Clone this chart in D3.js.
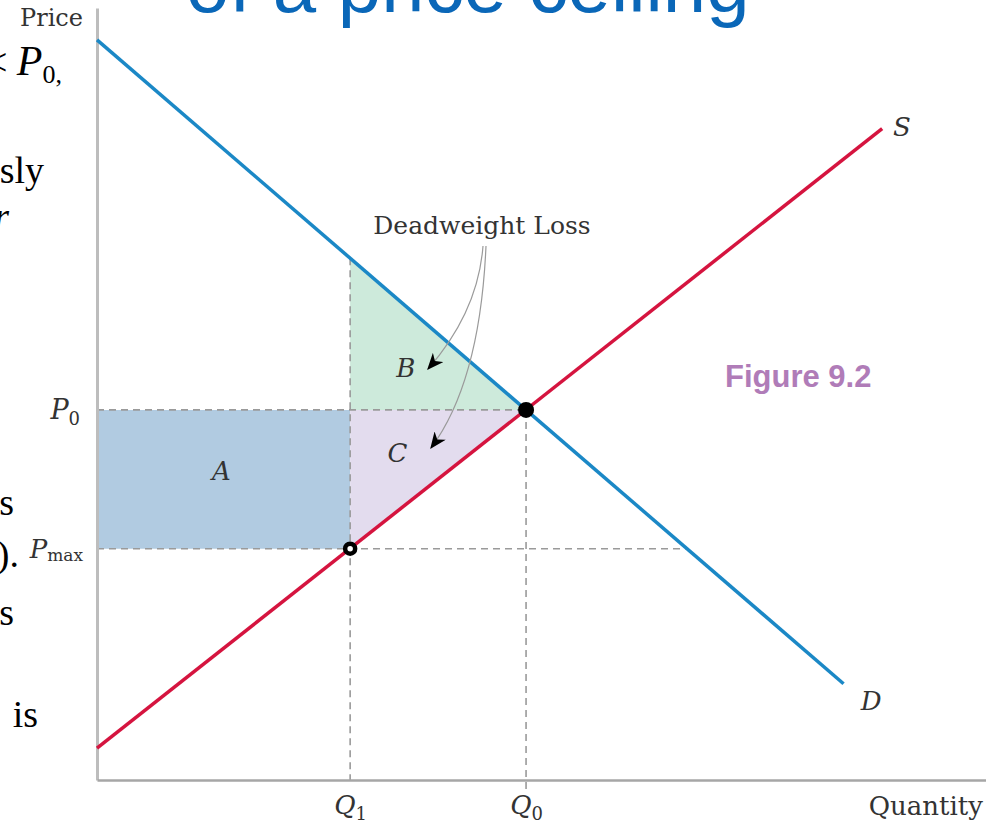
<!DOCTYPE html>
<html>
<head>
<meta charset="utf-8">
<script src="https://cdn.jsdelivr.net/npm/d3@7"></script>
<style>
  html, body { margin: 0; padding: 0; background: #fff; }
  svg { display: block; }
</style>
</head>
<body>
<svg id="chart" width="986" height="829"></svg>
<script>
// Market for a good with a price ceiling Pmax below equilibrium P0.
const demandQ = [0, 17.4];
const demandP = [20, 2.6];
const supplyQ = [0, 18.3];
const supplyP = [0.86, 17.6];

const Q0 = 10, P0 = 10;          // equilibrium
const Q1 = 5.9, Pmax = 6.25;     // quantity supplied at the ceiling
const demandPriceAtQ1 = 14.1;    // willingness to pay for the Q1-th unit
const demandQtyAtPmax = 13.75;   // quantity demanded at the ceiling

const priceTicks = [P0, Pmax];
const priceTickLabels = [["P", "0"], ["P", "max"]];
const qtyTicks = [Q1, Q0];
const qtyTickLabels = [["Q", "1"], ["Q", "0"]];

const areaLabels = ["A", "B", "C"];
const curveLabels = ["S", "D"];

const svg = d3.select("#chart");
const serif = "'DejaVu Serif', 'Liberation Serif', serif";
const ink = "#333";

const x = d3.scaleLinear().domain([0, 20.72]).range([97, 986]);
const y = d3.scaleLinear().domain([0, 20.86]).range([780, 8]);

// Slide title, partly above the visible area
svg.append("text")
  .attr("x", 186).attr("y", 12)
  .attr("font-family", "'Liberation Sans', Arial, sans-serif")
  .attr("font-size", 78)
  .attr("fill", "#0a67b8")
  .text("of a price ceiling");

// Body text of the slide, running off the left edge
const bodyLines = [
  { parts: [["< ", false], ["P", true, "0,"]], right: 62, base: 75 },
  { parts: [["sly", false]], right: 44, base: 183 },
  { parts: [["r", true]], right: 9, base: 229 },
  { parts: [["s", false]], right: 14, base: 515 },
  { parts: [[").", false]], right: 19, base: 567 },
  { parts: [["s", false]], right: 14, base: 625 },
  { parts: [["is", false]], right: 38, base: 727 }
];
bodyLines.forEach(line => {
  const t = svg.append("text")
    .attr("x", line.right).attr("y", line.base)
    .attr("text-anchor", "end")
    .attr("font-family", "'Liberation Serif', 'Times New Roman', serif")
    .attr("font-size", 38)
    .attr("fill", "#000");
  line.parts.forEach(p => {
    t.append("tspan").attr("font-style", p[1] ? "italic" : "normal")
      .attr("font-size", p[0] === "P" ? 42 : 38).text(p[0]);
    if (p[2]) t.append("tspan").attr("font-size", 26).attr("dy", 8).text(p[2]);
  });
});

// Shaded areas: A (transfer), B and C (deadweight loss)
const areaA = [[0, P0], [Q1, P0], [Q1, Pmax], [0, Pmax]];
const areaB = [[Q1, demandPriceAtQ1], [Q1, P0], [Q0, P0]];
const areaC = [[Q1, P0], [Q0, P0], [Q1, Pmax]];
const poly = d3.line().x(d => x(d[0])).y(d => y(d[1]));
svg.append("path").attr("d", poly(areaA) + "Z").attr("fill", "#b1cbe1");
svg.append("path").attr("d", poly(areaB) + "Z").attr("fill", "#cdeadb");
svg.append("path").attr("d", poly(areaC) + "Z").attr("fill", "#e3dcee");

// Dashed guide lines
const guides = [
  [[0, P0], [Q0, P0]],
  [[0, Pmax], [demandQtyAtPmax, Pmax]],
  [[Q1, demandPriceAtQ1], [Q1, 0]],
  [[Q0, P0], [Q0, -0.32]]
];
guides.forEach(g => {
  svg.append("path").attr("d", poly(g))
    .attr("stroke", "#9a9a9a").attr("stroke-width", 1.6)
    .attr("stroke-dasharray", "7,5").attr("fill", "none");
});

// Axes
const yAxis = d3.axisLeft(y).tickValues(priceTicks).tickSize(0).tickPadding(17).tickFormat("");
const xAxis = d3.axisBottom(x).tickValues(qtyTicks).tickSize(0).tickPadding(16).tickFormat("");
const gy = svg.append("g").attr("transform", `translate(${x(0)},0)`).call(yAxis);
const gx = svg.append("g").attr("transform", `translate(0,${y(0)})`).call(xAxis);
gy.select(".domain").attr("stroke", "#bdbdbd").attr("stroke-width", 3);
gx.select(".domain").attr("stroke", "#a6a6a6").attr("stroke-width", 2.5);

function subLabel(sel, labels, bigSize, subSize, dy) {
  sel.selectAll(".tick text").each(function(d, i) {
    const t = d3.select(this)
      .attr("font-family", serif).attr("fill", ink)
      .attr("font-size", bigSize);
    t.text(null);
    t.append("tspan").attr("font-style", "italic").text(labels[i][0]);
    t.append("tspan").attr("font-size", subSize).attr("dy", dy).text(labels[i][1]);
  });
}
subLabel(gy, priceTickLabels, 27, 18, 6);
gy.selectAll(".tick text").attr("dy", "0.32em");
gy.selectAll(".tick text").filter((d, i) => i === 1).attr("font-size", 26).attr("x", -14)
  .select("tspan:nth-child(2)").attr("font-size", 17).attr("dy", 3);
gy.selectAll(".tick text").filter((d, i) => i === 0).attr("x", -17);
subLabel(gx, qtyTickLabels, 26, 18, 6);
gx.selectAll(".tick text").attr("dy", "0.71em").attr("text-anchor", "middle");

svg.append("text")
  .attr("x", x(0) - 14).attr("y", 26).attr("text-anchor", "end")
  .attr("font-family", serif).attr("font-size", 24).attr("fill", ink)
  .text("Price");
svg.append("text")
  .attr("x", 983).attr("y", 815).attr("text-anchor", "end")
  .attr("font-family", serif).attr("font-size", 26).attr("fill", ink)
  .text("Quantity");

// Supply and demand curves
const curve = d3.line().x(d => x(d[0])).y(d => y(d[1]));
svg.append("path")
  .attr("d", curve(demandQ.map((q, i) => [q, demandP[i]])))
  .attr("stroke", "#1b88c6").attr("stroke-width", 3.5).attr("fill", "none");
svg.append("path")
  .attr("d", curve(supplyQ.map((q, i) => [q, supplyP[i]])))
  .attr("stroke", "#d5143f").attr("stroke-width", 3.5).attr("fill", "none");

// Equilibrium and ceiling points
svg.append("circle").attr("cx", x(Q0)).attr("cy", y(P0)).attr("r", 8).attr("fill", "#000");
svg.append("circle").attr("cx", x(Q1)).attr("cy", y(Pmax)).attr("r", 5)
  .attr("fill", "#fff").attr("stroke", "#000").attr("stroke-width", 4.5);

// Curve labels
const curveLabelPos = [[supplyQ[1] + 0.25, supplyP[1] - 0.2], [demandQ[1] + 0.4, demandP[1] - 0.7]];
curveLabels.forEach((lab, i) => {
  svg.append("text")
    .attr("x", x(curveLabelPos[i][0])).attr("y", y(curveLabelPos[i][1]))
    .attr("font-family", serif).attr("font-style", "italic")
    .attr("font-size", 26).attr("fill", ink).text(lab);
});

// Area labels
const areaLabelPos = [[2.9, 8.1], [7.2, 10.9], [7.0, 8.6]];
areaLabels.forEach((lab, i) => {
  svg.append("text")
    .attr("x", x(areaLabelPos[i][0])).attr("y", y(areaLabelPos[i][1]))
    .attr("text-anchor", "middle")
    .attr("font-family", serif).attr("font-style", "italic")
    .attr("font-size", 26).attr("fill", ink).text(lab);
});

// Deadweight loss annotation with arrows into B and C
svg.append("defs").append("marker")
  .attr("id", "head").attr("viewBox", "0 0 12 10")
  .attr("refX", 11).attr("refY", 5)
  .attr("markerWidth", 17).attr("markerHeight", 14)
  .attr("markerUnits", "userSpaceOnUse")
  .attr("orient", "auto")
  .append("path").attr("d", "M0,0 L12,5 L0,10 L3.5,5 Z").attr("fill", "#000");

svg.append("text")
  .attr("x", 482).attr("y", 234).attr("text-anchor", "middle")
  .attr("font-family", serif).attr("font-size", 25).attr("fill", ink)
  .text("Deadweight Loss");

const arrows = [
  "M483,246 Q478,312 428,369",
  "M486,246 Q480,382 431,448"
];
arrows.forEach(d => {
  svg.append("path").attr("d", d)
    .attr("stroke", "#9a9a9a").attr("stroke-width", 1.2).attr("fill", "none")
    .attr("marker-end", "url(#head)");
});

// Figure number
svg.append("text")
  .attr("x", 725).attr("y", 387)
  .attr("font-family", "'Liberation Sans', Arial, sans-serif")
  .attr("font-weight", "bold").attr("font-size", 31)
  .attr("fill", "#b07cb8").text("Figure 9.2");
</script>
</body>
</html>
